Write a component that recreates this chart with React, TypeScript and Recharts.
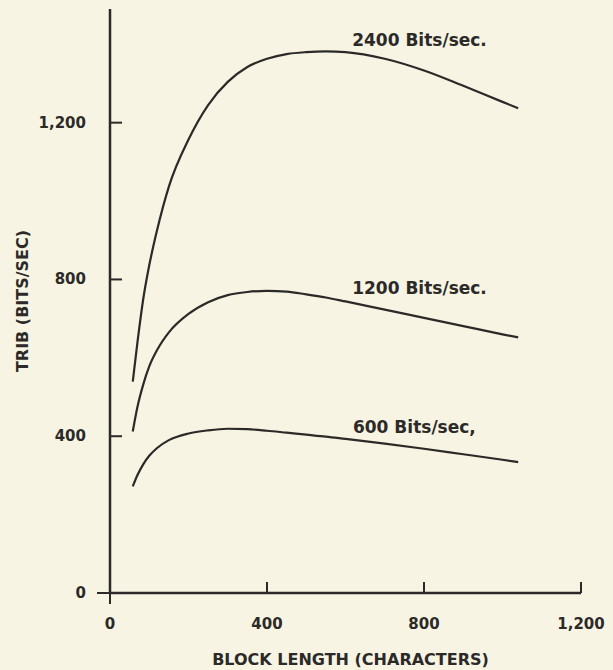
import React from 'react';
import { LineChart, Line, XAxis, YAxis, ReferenceDot, Label } from 'recharts';

const blockLength = [58, 70, 85, 100, 120, 150, 200, 250, 300, 350, 400, 450, 500, 550, 600, 700, 800, 900, 1000, 1040];
const rate2400 = [539, 640, 752, 836, 926, 1037, 1157, 1245, 1304, 1342, 1363, 1375, 1380, 1382, 1380, 1363, 1333, 1294, 1253, 1237];
const rate1200 = [412, 475, 533, 578, 620, 665, 712, 742, 760, 768, 771, 769, 762, 754, 744, 723, 702, 681, 660, 652];
const rate600 = [272, 301, 329, 350, 370, 390, 407, 415, 419, 418, 414, 409, 404, 399, 393, 381, 368, 354, 340, 334];

const xTicks = [0, 400, 800, 1200];
const yTicks = [0, 400, 800, 1200];

const seriesKeys = ['r2400', 'r1200', 'r600'];
const seriesLabels = ['2400 Bits/sec.', '1200 Bits/sec.', '600 Bits/sec,'];
const labelAnchorX = [617, 617, 619];
const labelAnchorY = [1412, 779, 424];

const xTitle = 'BLOCK LENGTH (CHARACTERS)';
const yTitle = 'TRIB (BITS/SEC)';

const data = blockLength.map((x, i) => ({
  x,
  r2400: rate2400[i],
  r1200: rate1200[i],
  r600: rate600[i],
}));

const INK = '#2b2a28';
const FONT = '"DejaVu Sans", sans-serif';

const fmt = (v: number) => v.toLocaleString('en-US');

const YTick = (props: any) => {
  const { x, y, payload } = props;
  const v = payload.value;
  return (
    <g>
      <line
        x1={v === 0 ? x - 13 : x}
        x2={v === 0 ? x : x + 12}
        y1={y}
        y2={y}
        stroke={INK}
        strokeWidth={2}
      />
      <text
        x={x - 24}
        y={y}
        textAnchor="end"
        dominantBaseline="central"
        fontFamily={FONT}
        fontWeight="bold"
        fontSize={15}
        fill={INK}
      >
        {fmt(v)}
      </text>
    </g>
  );
};

const XTick = (props: any) => {
  const { x, y, payload } = props;
  const v = payload.value;
  return (
    <g>
      <line
        x1={x}
        x2={x}
        y1={v === 0 ? y + 11 : y}
        y2={v === 0 ? y : y - 11}
        stroke={INK}
        strokeWidth={2}
      />
      <text
        x={x}
        y={y + 31}
        textAnchor="middle"
        dominantBaseline="central"
        fontFamily={FONT}
        fontWeight="bold"
        fontSize={15}
        fill={INK}
      >
        {fmt(v)}
      </text>
    </g>
  );
};

const makeAnnotation = (text: string) => (props: any) => (
  <text
    x={props.cx}
    y={props.cy}
    textAnchor="start"
    dominantBaseline="central"
    fontFamily={FONT}
    fontWeight="bold"
    fontSize={17}
    fill={INK}
  >
    {text}
  </text>
);

export default function App() {
  return (
    <div
      style={{
        position: 'absolute',
        left: 0,
        top: 0,
        width: 613,
        height: 670,
        background: '#f8f4e3',
      }}
    >
      <LineChart width={613} height={670} data={data} margin={{ top: 9, right: 32, bottom: 0, left: 0 }}>
        <XAxis
          dataKey="x"
          type="number"
          domain={[0, 1200]}
          ticks={xTicks}
          tickSize={0}
          tickMargin={0}
          tickLine={false}
          axisLine={{ stroke: INK, strokeWidth: 2.5 }}
          tick={<XTick />}
          height={77}
          interval={0}
        >
          <Label
            content={(p: any) => {
              const vb = p.viewBox;
              return (
                <text
                  x={vb.x + vb.width / 2 + 5}
                  y={vb.y + 66}
                  textAnchor="middle"
                  dominantBaseline="central"
                  fontFamily={FONT}
                  fontWeight="bold"
                  fontSize={16}
                  fill={INK}
                >
                  {xTitle}
                </text>
              );
            }}
          />
        </XAxis>
        <YAxis
          type="number"
          domain={[0, 1490]}
          ticks={yTicks}
          tickSize={0}
          tickMargin={0}
          tickLine={false}
          axisLine={{ stroke: INK, strokeWidth: 2.5 }}
          tick={<YTick />}
          width={110}
          interval={0}
        >
          <Label
            content={(p: any) => {
              const vb = p.viewBox;
              const cx = vb.x + 22;
              const cy = vb.y + vb.height / 2;
              return (
                <text
                  x={cx}
                  y={cy}
                  transform={`rotate(-90, ${cx}, ${cy})`}
                  textAnchor="middle"
                  dominantBaseline="central"
                  fontFamily={FONT}
                  fontWeight="bold"
                  fontSize={16}
                  fill={INK}
                >
                  {yTitle}
                </text>
              );
            }}
          />
        </YAxis>
        {seriesKeys.map((k) => (
          <Line
            key={k}
            dataKey={k}
            type="monotone"
            stroke={INK}
            strokeWidth={2.2}
            dot={false}
            activeDot={false}
            isAnimationActive={false}
          />
        ))}
        {seriesLabels.map((t, i) => (
          <ReferenceDot
            key={t}
            x={labelAnchorX[i]}
            y={labelAnchorY[i]}
            r={0}
            shape={makeAnnotation(t)}
          />
        ))}
      </LineChart>
    </div>
  );
}
